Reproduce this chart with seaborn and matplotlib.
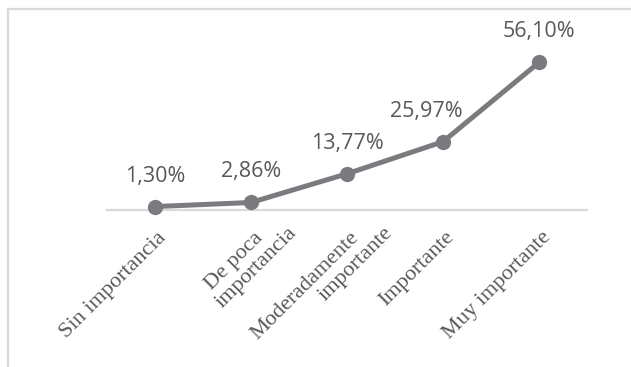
import numpy as np
import pandas as pd
import matplotlib
matplotlib.use("Agg")
import matplotlib.pyplot as plt
import matplotlib.transforms as mtransforms
from matplotlib.patches import Rectangle
import seaborn as sns

# data
categorias = ["Sin importancia", "De poca\nimportancia", "Moderadamente\nimportante",
              "Importante", "Muy importante"]
porcentajes = [1.30, 2.86, 13.77, 25.97, 56.10]

LINE_COLOR = "#7b7b7f"
TEXT_COLOR = "#595959"
AXIS_COLOR = "#d9d9d9"
# horizontal nudge of the value labels (pixels), Excel moves one off the line
label_dx = [0, 0, 0, -17, 0]

sns.set_style("white")

df = pd.DataFrame({"pos": np.arange(len(categorias)), "porcentaje": porcentajes})

fig = plt.figure(figsize=(6.31, 3.67), dpi=100)
ax = fig.add_axes([107 / 631, 157 / 367, 480 / 631, 70 * 2.63 / 367])

sns.lineplot(data=df, x="pos", y="porcentaje", ax=ax, color=LINE_COLOR,
             linewidth=3.6, marker="o", markersize=11, markeredgewidth=0,
             sort=False, legend=False, clip_on=False, zorder=3)

# value labels above the points
for x, v, dx in zip(df["pos"], df["porcentaje"], label_dx):
    ax.annotate(f"{v:.2f}".replace(".", ",") + "%", xy=(x, v),
                xytext=(dx, 25), textcoords="offset pixels",
                ha="center", va="baseline", fontsize=15.5,
                family="Open Sans", color=TEXT_COLOR)

ax.set_xlim(-0.5, len(categorias) - 0.5)
ax.set_ylim(0, 70)
ax.set_xlabel("")
ax.set_ylabel("")
ax.set_yticks([])
sns.despine(ax=ax, left=True, top=True, right=True)
ax.spines["bottom"].set_color(AXIS_COLOR)
ax.spines["bottom"].set_linewidth(1.6)
ax.spines["bottom"].set_zorder(1)

# category labels: first line as tick label, second line (if any) as annotation
primeras = [c.split("\n")[0] for c in categorias]
ax.set_xticks(df["pos"])
ax.set_xticklabels(primeras)
ax.tick_params(axis="x", length=0, pad=0)
shift = mtransforms.ScaledTranslation(0.12, -0.28, fig.dpi_scale_trans)
for lab in ax.get_xticklabels():
    lab.set_rotation(45)
    lab.set_rotation_mode("anchor")
    lab.set_ha("right")
    lab.set_va("baseline")
    lab.set_family("Liberation Serif")
    lab.set_fontsize(16)
    lab.set_color(TEXT_COLOR)
    lab.set_transform(lab.get_transform() + shift)

for i, c in enumerate(categorias):
    partes = c.split("\n")
    if len(partes) > 1:
        ax.annotate(partes[1], xy=(i, 0), xycoords=("data", "axes fraction"),
                    xytext=(46, -23), textcoords="offset pixels",
                    rotation=45, rotation_mode="anchor", ha="right", va="baseline",
                    family="Liberation Serif", fontsize=16, color=TEXT_COLOR,
                    annotation_clip=False)

# light frame around the chart area (cut by the image edges on right and bottom)
fig.patches.append(Rectangle((8 / 631, -0.1), 1.2, 1.1 - 9 / 367, fill=False,
                             edgecolor=AXIS_COLOR, linewidth=1.6,
                             transform=fig.transFigure, figure=fig))

fig.savefig("out.png", dpi=100)
